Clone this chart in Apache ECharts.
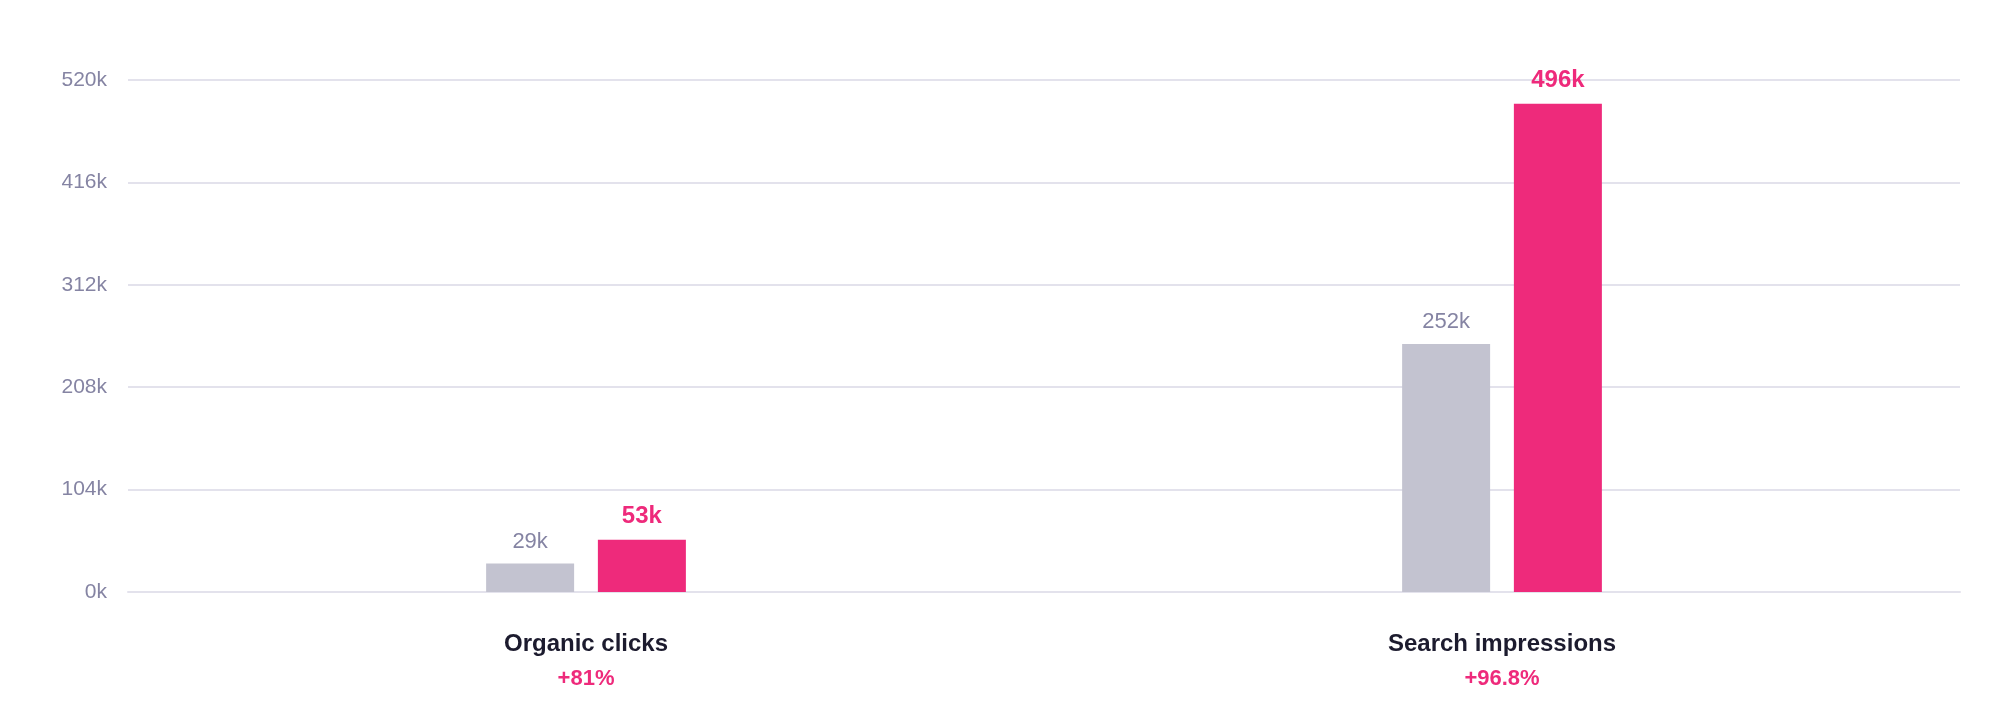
<!DOCTYPE html>
<html>
<head>
<meta charset="utf-8">
<title>Organic clicks and search impressions</title>
<script src="https://cdn.jsdelivr.net/npm/echarts@6/dist/echarts.min.js"></script>
<style>
  html, body { margin: 0; padding: 0; background: #fff; }
  #chart { width: 2000px; height: 720px; }
</style>
</head>
<body>
<div id="chart"></div>
<script>
var categories = ['Organic clicks', 'Search impressions'];
var previousValues = [29000, 252000];
var currentValues = [53000, 496000];
var changeLabels = ['+81%', '+96.8%'];
var axisMax = 520000;
var axisStep = 104000;

var fontFamily = "'Helvetica Neue', Helvetica, Arial, 'Liberation Sans', sans-serif";

function kFormat(v) {
    return Math.round(v / 1000) + 'k';
}

var chart = echarts.init(document.getElementById('chart'));

var option = {
    animation: false,
    textStyle: { fontFamily: fontFamily },
    grid: { left: 128, right: 40, top: 80, bottom: 128 },
    xAxis: {
        type: 'category',
        data: categories,
        axisTick: { show: false },
        axisLine: { lineStyle: { color: '#e3e2ec', width: 2 } },
        axisLabel: {
            margin: 34,
            formatter: function (name, i) {
                return '{name|' + name + '}\n{pct|' + changeLabels[i] + '}';
            },
            rich: {
                name: { fontSize: 24, fontWeight: 'bold', color: '#1c1b2e', lineHeight: 36, fontFamily: fontFamily },
                pct: { fontSize: 22, fontWeight: 'bold', color: '#ee2a7b', lineHeight: 34, fontFamily: fontFamily }
            }
        }
    },
    yAxis: {
        type: 'value',
        min: 0,
        max: axisMax,
        interval: axisStep,
        axisLine: { show: false },
        axisTick: { show: false },
        splitLine: { lineStyle: { color: '#e3e2ec', width: 2 } },
        axisLabel: {
            margin: 21,
            fontSize: 21,
            color: '#8584a3',
            formatter: kFormat
        }
    },
    series: [
        {
            name: 'Previous',
            type: 'bar',
            data: previousValues,
            barWidth: 88,
            barGap: '27%',
            itemStyle: { color: '#c3c3d0' },
            label: {
                show: true,
                position: 'top',
                distance: 11,
                fontSize: 22,
                color: '#8584a3',
                formatter: function (p) { return kFormat(p.value); }
            }
        },
        {
            name: 'Current',
            type: 'bar',
            data: currentValues,
            barWidth: 88,
            itemStyle: { color: '#ee2a7b' },
            label: {
                show: true,
                position: 'top',
                distance: 11,
                fontSize: 24,
                fontWeight: 'bold',
                color: '#ee2a7b',
                formatter: function (p) { return kFormat(p.value); }
            }
        }
    ]
};

chart.setOption(option);

window.addEventListener('resize', function () {
    chart.resize();
});
</script>
</body>
</html>
